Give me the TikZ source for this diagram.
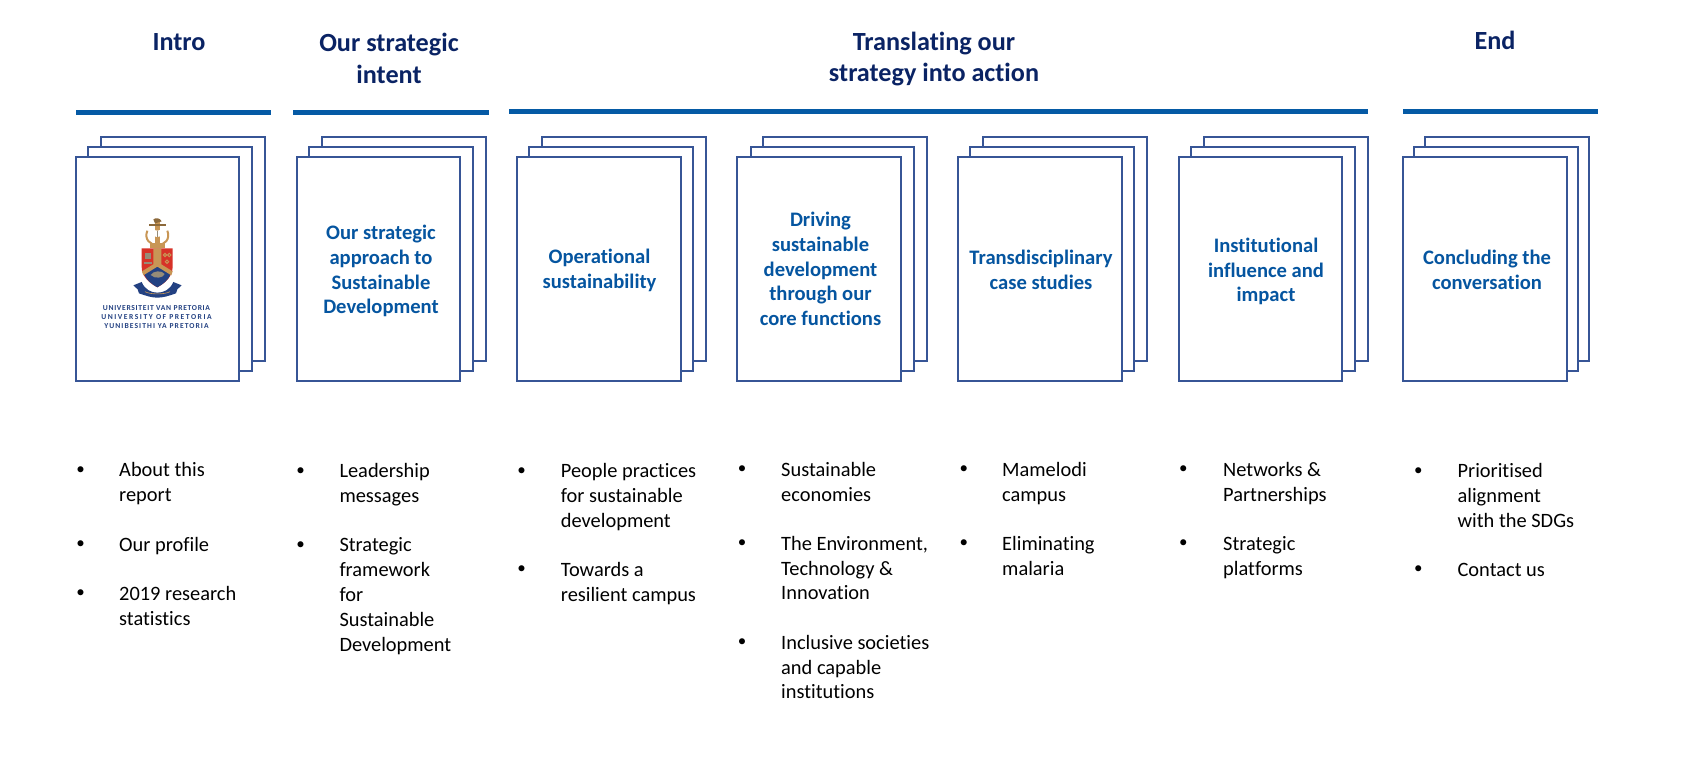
\documentclass[tikz,border=0pt]{standalone}
\usepackage{fontspec}
\setmainfont{Carlito}[Ligatures=NoCommon]
\usepackage{xcolor}
\usetikzlibrary{positioning}
\definecolor{bleuTitre}{RGB}{10, 35, 100}
\definecolor{bleuRegle}{RGB}{5, 90, 165}
\definecolor{bleuCarte}{RGB}{5, 85, 160}
\definecolor{bleuCadre}{RGB}{55, 85, 150}
\definecolor{rougeBlason}{RGB}{215, 50, 40}
\definecolor{orBlason}{RGB}{200, 150, 85}
\definecolor{bleuBlason}{RGB}{35, 65, 130}
\definecolor{griBlason}{RGB}{150, 140, 120}

\begin{document}
\begin{tikzpicture}[
  x=1pt, y=-1pt,
  page/.style={rectangle, draw=bleuCadre, fill=white, line width=2pt,
    minimum width=163.8pt, minimum height=224.5pt},
  cardtxt/.style={align=center, text=bleuCarte, inner sep=0pt,
    font=\fontsize{20.6}{24.8}\selectfont\bfseries},
  head/.style={align=center, text=bleuTitre, inner sep=0pt,
    font=\fontsize{26.2}{31.5}\selectfont\bfseries},
  regle/.style={line width=5pt, draw=bleuRegle},
  puce/.style={inner sep=0pt, font=\fontsize{17}{17}\selectfont},
  item/.style={anchor=north west, inner sep=0pt, align=left,
    font=\fontsize{20.4}{24.8}\selectfont},
  logotxt/.style={inner sep=0pt, text=bleuBlason, align=center,
    font=\fontsize{7.6}{9}\selectfont\bfseries},
]
\useasboundingbox (0,0) rectangle (1700,760);
% headings
\node[head] (hIntro)  at (179, 42) {Intro};
\node[head] (hIntent) at (389, 58.5) {Our strategic\\intent};
\node[head] (hAction) at (934, 59) {Translating our\\strategy into action};
\node[head] (hEnd)    at (1495, 40.5) {End};
\coordinate (r1a) at (76, 112);   \coordinate (r1b) at (271, 112);
\coordinate (r2a) at (293, 112);  \coordinate (r2b) at (489, 112);
\coordinate (r3a) at (509, 111);  \coordinate (r3b) at (1368, 111);
\coordinate (r4a) at (1403, 111.5); \coordinate (r4b) at (1598, 111.5);
\draw[regle] (r1a) -- (r1b);
\draw[regle] (r2a) -- (r2b);
\draw[regle] (r3a) -- (r3b);
\draw[regle] (r4a) -- (r4b);
% page stacks
\foreach \nom/\px/\dm/\db in {a/75.5/12.7/25.7, b/296.5/12.7/25.3, c/516.7/12.6/25,
    d/737.3/13.2/26, e/957.8/12.6/25.6, f/1178.5/12.6/25.6, g/1402.7/11/22.2}{
  \node[page] (\nom3) at (\px+\db+81.9, 249) {};
  \node[page] (\nom2) at (\px+\dm+81.9, 258.9) {};
  \node[page] (\nom1) at (\px+81.9, 268.8) {};
}
\node[cardtxt] (tb) at (381, 271)    {Our strategic\\approach to\\Sustainable\\Development};
\node[cardtxt] (tc) at (599.5, 270.5) {Operational\\sustainability};
\node[cardtxt] (td) at (820.5, 269)  {Driving\\sustainable\\development\\through our\\core functions};
\node[cardtxt] (te) at (1041, 270)   {Transdisciplinary\\case studies};
\node[cardtxt] (tf) at (1266, 271.5) {Institutional\\influence and\\impact};
\node[cardtxt] (tg) at (1487, 270)   {Concluding the\\conversation};
% crest
\begin{scope}[shift={(100,210)}, x=0.3333pt, y=-0.3333pt]
  \fill[bleuBlason] (100,226) -- (125,216) .. controls (135,240) and (155,248) .. (172,248)
    .. controls (190,248) and (210,240) .. (220,216) -- (245,226) -- (232,238) -- (228,250)
    .. controls (205,258) and (190,263) .. (172,263)
    .. controls (155,263) and (140,258) .. (117,250) -- (113,238) -- cycle;
  \draw[orBlason, line width=0.6pt] (135,245) .. controls (150,254) and (195,254) .. (210,245);
  \fill[rougeBlason] (125,115) -- (218,115) -- (218,170)
    .. controls (218,200) and (195,220) .. (172,232)
    .. controls (149,220) and (125,200) .. (125,170) -- cycle;
  \fill[bleuBlason] (132,192) -- (172,168) -- (212,192)
    .. controls (205,210) and (190,222) .. (172,232)
    .. controls (154,222) and (139,210) .. (132,192) -- cycle;
  \fill[griBlason] (152,195) .. controls (160,182) and (185,180) .. (194,192)
    .. controls (190,204) and (165,208) .. (152,195) -- cycle;
  \fill[orBlason] (160,115) -- (184,115) -- (184,163) -- (218,184) -- (214,196)
    -- (172,170) -- (130,196) -- (126,184) -- (160,163) -- cycle;
  \fill[griBlason] (135,130) rectangle (152,148);
  \fill[griBlason] (132,155) rectangle (155,163);
  \foreach \cx/\cy in {195/135, 208/135, 201/155}{
    \draw[orBlason, line width=1pt] (\cx,\cy) circle (5);
  }
  \draw[orBlason, line width=2pt] (142,62) .. controls (132,88) and (150,105) .. (172,105)
    .. controls (194,105) and (212,88) .. (202,62);
  \fill[orBlason] (150,98) rectangle (195,114);
  \fill[orBlason] (165,30) rectangle (179,100);
  \fill[orBlason!70!black] (147,42) rectangle (197,49);
  \fill[orBlason!70!black] (160,28) .. controls (168,22) and (180,24) .. (185,34) -- (165,40) -- cycle;
  \fill[white] (150,57) -- (172,62) -- (194,57) -- (194,76) -- (172,81) -- (150,76) -- cycle;
  \draw[griBlason, line width=0.4pt] (172,62) -- (172,81);
\end{scope}
\node[logotxt] (logoT) at (156.5, 317) {%
  {\addfontfeature{LetterSpace=9}UNIVERSITEIT VAN PRETORIA}\\
  {\addfontfeature{LetterSpace=20}UNIVERSITY OF PRETORIA}\\
  {\addfontfeature{LetterSpace=14}YUNIBESITHI YA PRETORIA}};
% lists
\foreach \bx/\tx/\by/\nom/\txt in {
  80.7/119/476.7/la/{About this\\report},
  80.7/119/551/lb/{Our profile},
  80.7/119/600/lc/{2019 research\\statistics},
  300.7/339.3/477.7/ld/{Leadership\\messages},
  300.7/339.3/551.7/le/{Strategic\\framework\\for\\Sustainable\\Development},
  521.7/560.7/477.3/lf/{People practices\\for sustainable\\development},
  521.7/560.7/576/lg/{Towards a\\resilient campus},
  742/781/476/lh/{Sustainable\\economies},
  742/781/550/li/{The Environment,\\Technology \&\\Innovation},
  742/781/649/lj/{Inclusive societies\\and capable\\institutions},
  963.9/1002/476/lk/{Mamelodi\\campus},
  963.9/1002/550/ll/{Eliminating\\malaria},
  1183.3/1223/476/lm/{Networks \&\\Partnerships},
  1183.3/1223/550/ln/{Strategic\\platforms},
  1418.3/1457.4/477.3/lo/{Prioritised\\alignment\\with the SDGs},
  1418.3/1457.4/576/lp/{Contact us}}{
  \node[puce] (p\nom) at (\bx, \by-6) {•};
  \node[item] (\nom) at (\tx, \by-15) {\rule{0pt}{15pt}\txt};
}
\end{tikzpicture}
\end{document}
